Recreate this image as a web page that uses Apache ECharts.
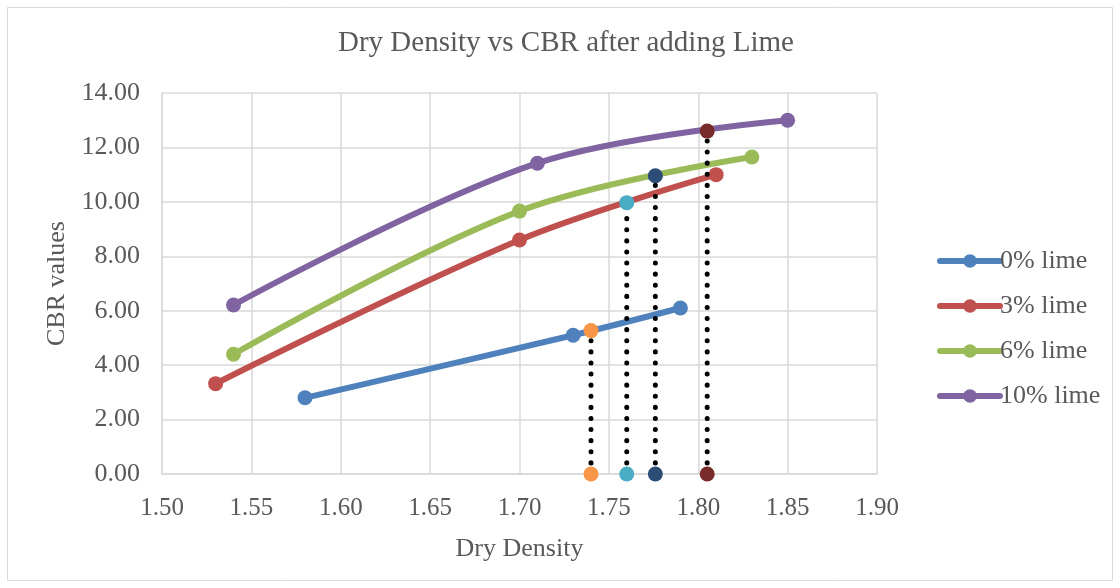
<!DOCTYPE html>
<html><head><meta charset="utf-8">
<script src="https://cdn.jsdelivr.net/npm/echarts@6/dist/echarts.min.js"></script>
<style>html,body{margin:0;padding:0;background:#fff}#c{width:1120px;height:588px}</style>
</head><body><div id="c"></div>
<script>
const seriesNames = ['0% lime', '3% lime', '6% lime', '10% lime'];
const seriesColors = ['#4F81BD', '#C0504D', '#9BBB59', '#8064A2'];
const lime0 = [[1.58, 2.80], [1.73, 5.10], [1.79, 6.10]];
const lime3 = [[1.53, 3.32], [1.70, 8.60], [1.81, 11.00]];
const lime6 = [[1.54, 4.40], [1.70, 9.66], [1.83, 11.65]];
const lime10 = [[1.54, 6.21], [1.71, 11.42], [1.85, 13.00]];
const dropX = [1.74, 1.76, 1.776, 1.805];
const dropY = [5.27, 9.97, 10.96, 12.60];
const dropColors = ['#F79646', '#4BACC6', '#2C4D75', '#772C2A'];
const yTicks = ['0.00','2.00','4.00','6.00','8.00','10.00','12.00','14.00'];

const font = 'Liberation Serif, Times New Roman, serif';
const chart = echarts.init(document.getElementById('c'));
const mainData = [lime0, lime3, lime6, lime10];
const series = mainData.map((d, i) => ({
  name: seriesNames[i], type: 'line', data: d, smooth: 0.35,
  symbol: 'circle', symbolSize: 15,
  lineStyle: {width: 6, color: seriesColors[i], cap: 'round'},
  itemStyle: {color: seriesColors[i]}, z: 2
}));
dropX.forEach((x, i) => {
  series.push({
    type: 'line', data: [[x, 0], [x, dropY[i]]], symbol: 'circle', symbolSize: 15,
    lineStyle: {color: '#000', width: 5, type: [0.1, 11], cap: 'round'},
    itemStyle: {color: dropColors[i]}, z: 3, silent: true
  });
});
chart.setOption({
  animation: false,
  graphic: [{type: 'rect', shape: {x: 7.5, y: 7.5, width: 1105, height: 573},
    style: {fill: 'none', stroke: '#d9d9d9', lineWidth: 1}, silent: true}],
  title: {text: 'Dry Density vs CBR after adding Lime', left: 333, top: 24,
    textStyle: {fontFamily: font, fontSize: 29, fontWeight: 'normal', color: '#595959'}},
  legend: {data: seriesNames, orient: 'vertical', left: 932, top: 243, itemWidth: 60, itemHeight: 17, itemGap: 19,
    lineStyle: {width: 6},
    textStyle: {fontFamily: font, fontSize: 26, color: '#595959', padding: [0,0,0,-5]}},
  grid: {left: 162, right: 243, top: 93, bottom: 114, containLabel: false},
  xAxis: {type: 'value', min: 1.5, max: 1.9, interval: 0.05,
    name: 'Dry Density', nameLocation: 'middle', nameGap: 62,
    nameTextStyle: {fontFamily: font, fontSize: 26, color: '#595959'},
    axisLine: {lineStyle: {color: '#d9d9d9', width: 1.5}}, axisTick: {show: false},
    axisLabel: {fontFamily: font, fontSize: 25, color: '#595959', margin: 22, formatter: v => v.toFixed(2)},
    splitLine: {show: true, lineStyle: {color: '#d9d9d9', width: 1.5}}},
  yAxis: {type: 'value', min: 0, max: 14, interval: 2,
    name: 'CBR values', nameLocation: 'middle', nameGap: 92, nameRotate: 90,
    nameTextStyle: {fontFamily: font, fontSize: 26, color: '#595959'},
    axisLine: {show: true, lineStyle: {color: '#d9d9d9', width: 1.5}}, axisTick: {show: false},
    axisLabel: {fontFamily: font, fontSize: 26, color: '#595959', margin: 22, formatter: v => yTicks[Math.round(v/2)]},
    splitLine: {show: true, lineStyle: {color: '#d9d9d9', width: 1.5}}},
  series: series
});
</script></body></html>
